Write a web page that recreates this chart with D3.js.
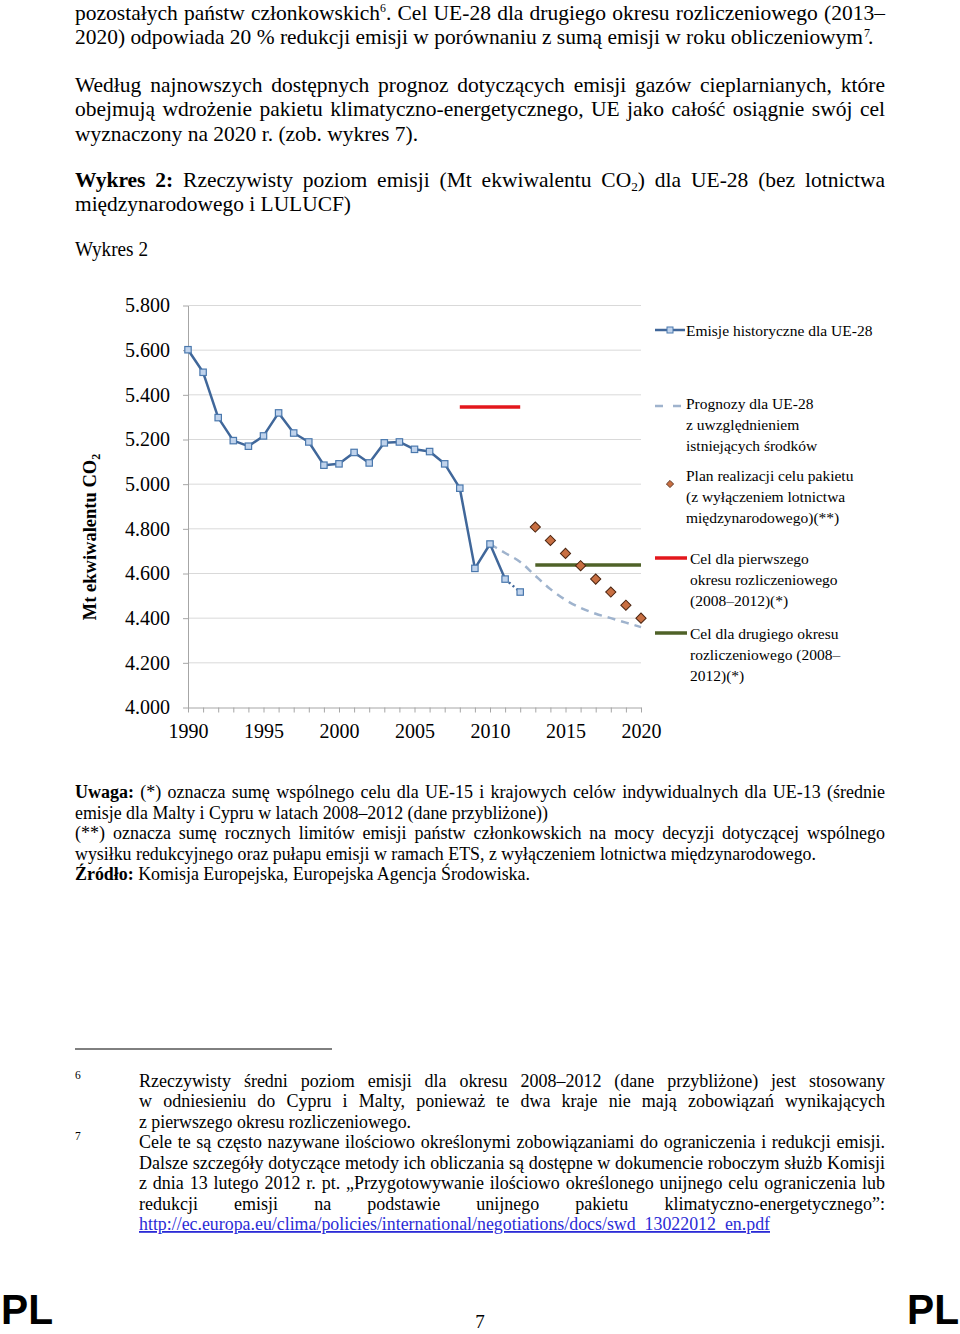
<!DOCTYPE html>
<html><head><meta charset="utf-8">
<script src="https://cdn.jsdelivr.net/npm/d3@7"></script>
<style>
html,body{margin:0;padding:0;background:#fff;}
svg{display:block;}
text{font-family:"Liberation Serif","Times New Roman",serif;fill:#000;}
</style></head><body>
<script>
// ---------- DATA ----------
const histYears = [1990,1991,1992,1993,1994,1995,1996,1997,1998,1999,2000,2001,2002,2003,2004,2005,2006,2007,2008,2009,2010,2011,2012];
const histValues = [5602,5501,5298,5195,5170,5216,5319,5229,5189,5085,5091,5142,5095,5185,5189,5156,5146,5091,4982,4623,4732,4575,4517];
const projYears = [2010,2011,2012,2013,2014,2015,2016,2017,2018,2019,2020];
const projValues = [4732,4692,4652,4590,4530,4482,4446,4420,4400,4380,4360];
const planYears = [2013,2014,2015,2016,2017,2018,2019,2020];
const planValues = [4808,4748,4690,4635,4575,4517,4458,4400];
const target1Years = [2008,2012];
const target1Value = 5345;
const target2Years = [2013,2020];
const target2Value = 4638;
const yTicks = [4000,4200,4400,4600,4800,5000,5200,5400,5600,5800];
const xTickLabels = [1990,1995,2000,2005,2010,2015,2020];
const legendLabels = [
  ["Emisje historyczne dla UE-28"],
  ["Prognozy dla UE-28","z uwzględnieniem","istniejących środków"],
  ["Plan realizacji celu pakietu","(z wyłączeniem lotnictwa","międzynarodowego)(**)"],
  ["Cel dla pierwszego","okresu rozliczeniowego","(2008–2012)(*)"],
  ["Cel dla drugiego okresu","rozliczeniowego (2008–","2012)(*)"]
];

// ---------- SETUP ----------
const svg = d3.select("body").append("svg").attr("width",960).attr("height",1334);
svg.append("rect").attr("width",960).attr("height",1334).attr("fill","#fff");

function textLine(g, x, y, parts, o) {
  const size = o.size;
  const t = g.append("text").attr("x", x).attr("y", y).style("font-size", size + "px");
  if (o.fill) t.style("fill", o.fill);
  if (o.underline) t.style("text-decoration", "underline");
  let shift = 0, full = "";
  parts.forEach(p => {
    const [s, st] = typeof p === "string" ? [p, ""] : p;
    const ts = t.append("tspan").text(s);
    full += s;
    let want = 0;
    if (st === "b") ts.style("font-weight", "bold");
    if (st === "sup") { want = -0.36 * size; ts.style("font-size", (0.55 * size) + "px"); }
    if (st === "sub") { want = 0.22 * size; ts.style("font-size", (0.62 * size) + "px"); }
    if (want !== shift) { ts.attr("dy", want - shift); shift = want; }
  });
  const w = t.node().getComputedTextLength();
  if (o.justify) {
    const target = o.justify - x;
    const nSp = (full.match(/ /g) || []).length;
    if (w < target && nSp > 0) {
      t.style("word-spacing", ((target - w) / nSp) + "px");
      const bw = t.node().getBBox().width;
      if (Math.abs(bw - target) > 3) {
        t.style("word-spacing", null).attr("textLength", target).attr("lengthAdjust", "spacing");
      }
    } else {
      t.attr("textLength", target).attr("lengthAdjust", "spacingAndGlyphs");
    }
  } else if (o.end) {
    t.attr("textLength", o.end - x).attr("lengthAdjust", "spacingAndGlyphs");
  }
  return t;
}

// ---------- BODY TEXT ----------
const page = svg.append("g");
const B = 21.5;
textLine(page, 75, 19.5, ["pozostałych państw członkowskich", ["6","sup"], ". Cel UE-28 dla drugiego okresu rozliczeniowego (2013–"], {size:B, justify:885});
textLine(page, 75, 44, ["2020) odpowiada 20 % redukcji emisji w porównaniu z sumą emisji w roku obliczeniowym"], {size:B, end:863});
page.append("text").attr("x", 864).attr("y", 37).style("font-size", "12px").text("7");
page.append("text").attr("x", 868).attr("y", 44).style("font-size", B + "px").text(".");
textLine(page, 75, 91.5, ["Według najnowszych dostępnych prognoz dotyczących emisji gazów cieplarnianych, które"], {size:B, justify:885});
textLine(page, 75, 116, ["obejmują wdrożenie pakietu klimatyczno-energetycznego, UE jako całość osiągnie swój cel"], {size:B, justify:885});
textLine(page, 75, 140.5, ["wyznaczony na 2020 r. (zob. wykres 7)."], {size:B, end:418});
textLine(page, 75, 186.5, [["Wykres 2:","b"], " Rzeczywisty poziom emisji (Mt ekwiwalentu CO", ["2","sub"], ") dla UE-28 (bez lotnictwa"], {size:B, justify:885});
textLine(page, 75, 211, ["międzynarodowego i LULUCF)"], {size:B, end:351});
textLine(page, 75, 255.5, ["Wykres 2"], {size:20, end:148});

// ---------- CHART ----------
const x = d3.scaleLinear().domain([1990, 2020]).range([188, 641]);
const y = d3.scaleLinear().domain([4000, 5800]).range([707.5, 305.5]);
const fmt = d3.formatLocale({decimal:",", thousands:".", grouping:[3], currency:["","zł"]}).format(",");
const chart = svg.append("g");

chart.append("g").selectAll("line").data(yTicks.filter(d => d > 4000)).join("line")
  .attr("x1", x(1990)).attr("x2", x(2020)).attr("y1", d => y(d)).attr("y2", d => y(d))
  .attr("stroke", "#d9d9d9").attr("stroke-width", 1);

const yAxisG = chart.append("g").attr("transform", `translate(${x(1990)},0)`)
  .call(d3.axisLeft(y).tickValues(yTicks).tickSize(5).tickSizeOuter(0).tickPadding(13).tickFormat(fmt));
const xAxisG = chart.append("g").attr("transform", `translate(0,${y(4000)})`)
  .call(d3.axisBottom(x).tickValues(d3.range(1990, 2021)).tickSize(5).tickSizeOuter(0).tickPadding(11)
    .tickFormat(d => xTickLabels.includes(d) ? String(d) : ""));
[yAxisG, xAxisG].forEach(g => {
  g.select(".domain").attr("stroke", "#a6a6a6");
  g.selectAll(".tick line").attr("stroke", "#a6a6a6");
  g.selectAll(".tick text").attr("font-family", null).style("font-family", '"Liberation Serif",serif')
    .style("font-size", "20px").attr("fill", "#000");
});

// y title
const yt = chart.append("text").attr("transform", "translate(96,537) rotate(-90)")
  .attr("text-anchor", "middle").style("font-size", "18.5px").style("font-weight", "bold");
yt.append("tspan").text("Mt ekwiwalentu CO");
yt.append("tspan").text("2").attr("dy", 4).style("font-size", "12px");

// targets
chart.append("line").attr("x1", x(target1Years[0])).attr("x2", x(target1Years[1]))
  .attr("y1", y(target1Value)).attr("y2", y(target1Value)).attr("stroke", "#e3171c").attr("stroke-width", 3.5);
chart.append("line").attr("x1", x(target2Years[0])).attr("x2", x(target2Years[1]))
  .attr("y1", y(target2Value)).attr("y2", y(target2Value)).attr("stroke", "#4f6228").attr("stroke-width", 3.5);

// projections
const proj = projYears.map((d, i) => ({year: d, value: projValues[i]}));
chart.append("path").datum(proj)
  .attr("d", d3.line().x(d => x(d.year)).y(d => y(d.value)).curve(d3.curveMonotoneX))
  .attr("fill", "none").attr("stroke", "#9fb3cd").attr("stroke-width", 2.5).attr("stroke-dasharray", "8,6");

// historical
const hist = histYears.map((d, i) => ({year: d, value: histValues[i]}));
const hl = d3.line().x(d => x(d.year)).y(d => y(d.value));
chart.append("path").datum(hist.slice(0, hist.length - 1)).attr("d", hl)
  .attr("fill", "none").attr("stroke", "#40679a").attr("stroke-width", 2.5).attr("stroke-linejoin", "round");
chart.append("path").datum(hist.slice(hist.length - 2)).attr("d", hl)
  .attr("fill", "none").attr("stroke", "#40679a").attr("stroke-width", 2.5).attr("stroke-dasharray", "2,3");
chart.append("g").selectAll("rect").data(hist).join("rect")
  .attr("x", d => x(d.year) - 3.2).attr("y", d => y(d.value) - 3.2).attr("width", 6.4).attr("height", 6.4)
  .attr("fill", "#c0d3ec").attr("stroke", "#4a78ad").attr("stroke-width", 1.2);

// plan diamonds
const plan = planYears.map((d, i) => ({year: d, value: planValues[i]}));
chart.append("g").selectAll("path").data(plan).join("path")
  .attr("d", d3.symbol(d3.symbolSquare, 52))
  .attr("transform", d => `translate(${x(d.year)},${y(d.value)}) rotate(45)`)
  .attr("fill", "#c86f42").attr("stroke", "#4a2410").attr("stroke-width", 1);

// legend
const lg = svg.append("g");
lg.append("line").attr("x1", 655).attr("x2", 685).attr("y1", 330).attr("y2", 330).attr("stroke", "#40679a").attr("stroke-width", 2.5);
lg.append("rect").attr("x", 667).attr("y", 327).attr("width", 6).attr("height", 6).attr("fill", "#c0d3ec").attr("stroke", "#4a78ad");
lg.append("line").attr("x1", 655).attr("x2", 681).attr("y1", 406).attr("y2", 406).attr("stroke", "#9fb3cd").attr("stroke-width", 2.5).attr("stroke-dasharray", "8,10");
lg.append("path").attr("d", d3.symbol(d3.symbolSquare, 26)).attr("transform", "translate(670,484) rotate(45)")
  .attr("fill", "#c86f42").attr("stroke", "#4a2410").attr("stroke-width", 0.8);
lg.append("line").attr("x1", 655).attr("x2", 687).attr("y1", 558).attr("y2", 558).attr("stroke", "#e3171c").attr("stroke-width", 3.5);
lg.append("line").attr("x1", 655).attr("x2", 687).attr("y1", 633).attr("y2", 633).attr("stroke", "#4f6228").attr("stroke-width", 3.5);
const legPos = [[686, 335.5], [686, 408.5], [686, 480.5], [690, 563.5], [690, 638.5]];
legendLabels.forEach((lines, i) => {
  lines.forEach((s, j) => {
    lg.append("text").attr("x", legPos[i][0]).attr("y", legPos[i][1] + j * 21)
      .style("font-size", "15.5px").text(s);
  });
});

// ---------- NOTES ----------
const N = 18;
textLine(page, 75, 798, [["Uwaga:","b"], " (*) oznacza sumę wspólnego celu dla UE-15 i krajowych celów indywidualnych dla UE-13 (średnie"], {size:N, justify:885});
textLine(page, 75, 818.5, ["emisje dla Malty i Cypru w latach 2008–2012 (dane przybliżone))"], {size:N, end:548});
textLine(page, 75, 839, ["(**) oznacza sumę rocznych limitów emisji państw członkowskich na mocy decyzji dotyczącej wspólnego"], {size:N, justify:885});
textLine(page, 75, 859.5, ["wysiłku redukcyjnego oraz pułapu emisji w ramach ETS, z wyłączeniem lotnictwa międzynarodowego."], {size:N, end:816});
textLine(page, 75, 880, [["Źródło:","b"], " Komisja Europejska, Europejska Agencja Środowiska."], {size:N, end:530});

// ---------- FOOTNOTES ----------
page.append("line").attr("x1", 75).attr("x2", 332).attr("y1", 1049).attr("y2", 1049).attr("stroke", "#000").attr("stroke-width", 1);
page.append("text").attr("x", 75).attr("y", 1079).style("font-size", "11.5px").text("6");
page.append("text").attr("x", 75).attr("y", 1140).style("font-size", "11.5px").text("7");
const F = 18, fx = 139;
textLine(page, fx, 1086.5, ["Rzeczywisty średni poziom emisji dla okresu 2008–2012 (dane przybliżone) jest stosowany"], {size:F, justify:885});
textLine(page, fx, 1107, ["w odniesieniu do Cypru i Malty, ponieważ te dwa kraje nie mają zobowiązań wynikających"], {size:F, justify:885});
textLine(page, fx, 1127.5, ["z pierwszego okresu rozliczeniowego."], {size:F, end:411});
textLine(page, fx, 1148, ["Cele te są często nazywane ilościowo określonymi zobowiązaniami do ograniczenia i redukcji emisji."], {size:F, justify:885});
textLine(page, fx, 1168.5, ["Dalsze szczegóły dotyczące metody ich obliczania są dostępne w dokumencie roboczym służb Komisji"], {size:F, justify:885});
textLine(page, fx, 1189, ["z dnia 13 lutego 2012 r. pt. „Przygotowywanie ilościowo określonego unijnego celu ograniczenia lub"], {size:F, justify:885});
textLine(page, fx, 1209.5, ["redukcji emisji na podstawie unijnego pakietu klimatyczno-energetycznego”:"], {size:F, justify:885});
textLine(page, fx, 1230, ["http://ec.europa.eu/clima/policies/international/negotiations/docs/swd_13022012_en.pdf"], {size:F, end:770, fill:"#2b2bd6", underline:true});

// ---------- FOOTER ----------
page.append("text").attr("x", 1).attr("y", 1324).attr("textLength", 52).attr("lengthAdjust", "spacingAndGlyphs")
  .style("font-family", '"Liberation Sans",Arial,sans-serif').style("font-weight", "bold").style("font-size", "42px").text("PL");
page.append("text").attr("x", 907).attr("y", 1324).attr("textLength", 52).attr("lengthAdjust", "spacingAndGlyphs")
  .style("font-family", '"Liberation Sans",Arial,sans-serif').style("font-weight", "bold").style("font-size", "42px").text("PL");
page.append("text").attr("x", 480).attr("y", 1328).attr("text-anchor", "middle").style("font-size", "19px").text("7");
</script>
</body></html>
